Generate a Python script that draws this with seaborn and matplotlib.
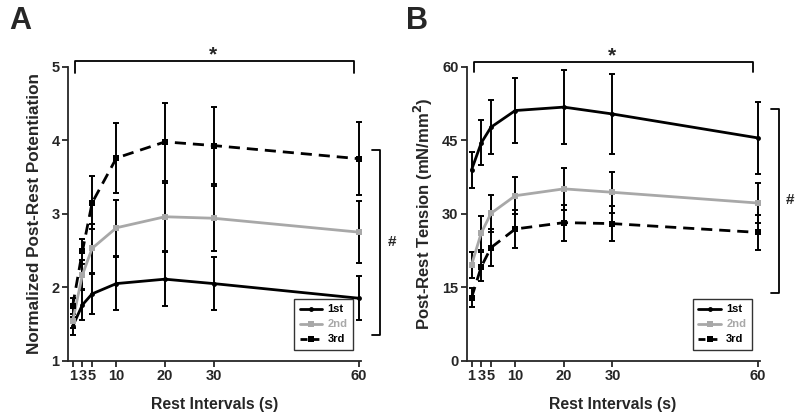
# Post-rest potentiation and tension vs rest interval, panels A and B.

import pandas as pd
import numpy as np
import seaborn as sns
import matplotlib.pyplot as plt
from matplotlib.lines import Line2D

sns.set_style('ticks')
plt.rcParams['font.family'] = ['Liberation Sans', 'DejaVu Sans']
plt.rcParams['font.weight'] = 'bold'
plt.rcParams['axes.labelweight'] = 'bold'

intervals = [1, 3, 5, 10, 20, 30, 60]
trains = ['1st', '2nd', '3rd']

# panel A - normalized post-rest potentiation
a_1st = [1.47, 1.76, 1.91, 2.05, 2.11, 2.05, 1.85]
a_1st_err = [0.12, 0.20, 0.27, 0.36, 0.37, 0.36, 0.30]
a_2nd = [1.54, 2.17, 2.53, 2.81, 2.96, 2.94, 2.75]
a_2nd_err = [0.10, 0.20, 0.33, 0.38, 0.46, 0.44, 0.42]
a_3rd = [1.75, 2.49, 3.15, 3.76, 3.98, 3.93, 3.75]
a_3rd_err = [0.11, 0.17, 0.36, 0.48, 0.53, 0.52, 0.50]

# panel B - post-rest tension (mN/mm2)
b_1st = [39.0, 44.5, 47.7, 51.1, 51.8, 50.4, 45.5]
b_1st_err = [3.7, 4.6, 5.5, 6.7, 7.6, 8.2, 7.4]
b_2nd = [19.6, 26.1, 30.1, 33.7, 35.1, 34.4, 32.2]
b_2nd_err = [2.7, 3.5, 3.8, 3.8, 4.3, 4.2, 4.1]
b_3rd = [12.9, 19.2, 23.1, 26.9, 28.2, 28.0, 26.2]
b_3rd_err = [2.0, 3.0, 3.7, 3.8, 3.7, 3.6, 3.5]

colors = {'1st': 'black', '2nd': '#a8a8a8', '3rd': 'black'}
markers = {'1st': 'o', '2nd': 's', '3rd': 's'}
msizes = {'1st': 3.5, '2nd': 4.5, '3rd': 5}
dashes = {'1st': '', '2nd': '', '3rd': (4, 2.5)}


def make_df(v1, e1, v2, e2, v3, e3):
    rows = []
    for tr, vals, errs in zip(trains, [v1, v2, v3], [e1, e2, e3]):
        for x, v, e in zip(intervals, vals, errs):
            rows.append([x, v, e, tr])
    return pd.DataFrame(rows, columns=['Interval', 'Value', 'Err', 'Train'])


dfA = make_df(a_1st, a_1st_err, a_2nd, a_2nd_err, a_3rd, a_3rd_err)
dfB = make_df(b_1st, b_1st_err, b_2nd, b_2nd_err, b_3rd, b_3rd_err)

fig = plt.figure(figsize=(8, 4.16), dpi=100)
axA = fig.add_axes([0.0848, 0.133, 0.366, 0.706])
axB = fig.add_axes([0.5834, 0.133, 0.366, 0.706])


def draw(ax, df):
    for tr in trains:
        d = df[df['Train'] == tr]
        ax.errorbar(d['Interval'], d['Value'], yerr=d['Err'], fmt='none',
                    ecolor='black', elinewidth=1.4, capsize=2.5, capthick=1.4, zorder=2)
    sns.lineplot(data=df, x='Interval', y='Value', hue='Train', style='Train',
                 palette=colors, markers=markers, dashes=dashes, linewidth=2,
                 markeredgewidth=0, legend=False, ax=ax, zorder=3)
    for line, tr in zip(ax.get_lines()[-3:], trains):
        line.set_markersize(msizes[tr])
    ax.set_xlim(0, 60.3)
    ax.set_xticks(intervals)
    ax.set_xlabel('Rest Intervals (s)', fontsize=11.3, labelpad=10)
    for s in ['top', 'right']:
        ax.spines[s].set_visible(False)
    for s in ['left', 'bottom']:
        ax.spines[s].set_linewidth(1.3)
    ax.tick_params(width=1.3, length=4, labelsize=10.5, pad=2)
    for lab in ax.get_xticklabels() + ax.get_yticklabels():
        lab.set_fontweight('bold')
    handles = [Line2D([0], [0], color=colors[t], marker=markers[t],
                      markersize=3.5 if t == '1st' else 4, markeredgewidth=0,
                      linewidth=2, dashes=(2.5, 1.8) if t == '3rd' else (None, None))
               for t in trains]
    leg = ax.legend(handles, trains, loc='lower right', bbox_to_anchor=(0.985, 0.025),
                    fontsize=8, frameon=True, fancybox=False, handlelength=2.0,
                    borderpad=0.5, labelspacing=0.45, handletextpad=0.5,
                    borderaxespad=0.3)
    leg.get_frame().set_edgecolor('black')
    leg.get_frame().set_linewidth(1.0)
    for txt, t in zip(leg.get_texts(), trains):
        txt.set_color(colors[t])
        txt.set_fontweight('bold')


draw(axA, dfA)
axA.set_ylim(1, 5)
axA.set_yticks([1, 2, 3, 4, 5])
axA.set_ylabel('Normalized Post-Rest Potentiation', fontsize=12.3, labelpad=7)

draw(axB, dfB)
axB.set_ylim(0, 60)
axB.set_yticks([0, 15, 30, 45, 60])
axB.set_ylabel('Post-Rest Tension (mN/mm$^\\mathbf{2}$)', fontsize=12, labelpad=5)

# significance brackets
kw = dict(color='black', lw=1.3, clip_on=False)
axA.plot([1.5, 1.5, 59, 59], [4.92, 5.075, 5.075, 4.92], **kw)
axA.text(29.8, 5.16, '*', ha='center', va='center', fontsize=15, fontweight='bold')
axA.plot([62.7, 64.3, 64.3, 62.7], [3.87, 3.87, 1.35, 1.35], **kw)
axA.text(65.8, 2.62, '#', ha='left', va='center', fontsize=11, fontweight='bold')

axB.plot([1.4, 1.4, 59, 59], [58.9, 61.1, 61.1, 58.9], **kw)
axB.text(29.9, 62.3, '*', ha='center', va='center', fontsize=15, fontweight='bold')
axB.plot([62.7, 64.3, 64.3, 62.7], [51.5, 51.5, 13.9, 13.9], **kw)
axB.text(65.8, 32.9, '#', ha='left', va='center', fontsize=11, fontweight='bold')

fig.text(0.012, 0.985, 'A', fontsize=22, fontweight='bold', va='top')
fig.text(0.508, 0.985, 'B', fontsize=22, fontweight='bold', va='top')

plt.savefig('out.png', dpi=100)
